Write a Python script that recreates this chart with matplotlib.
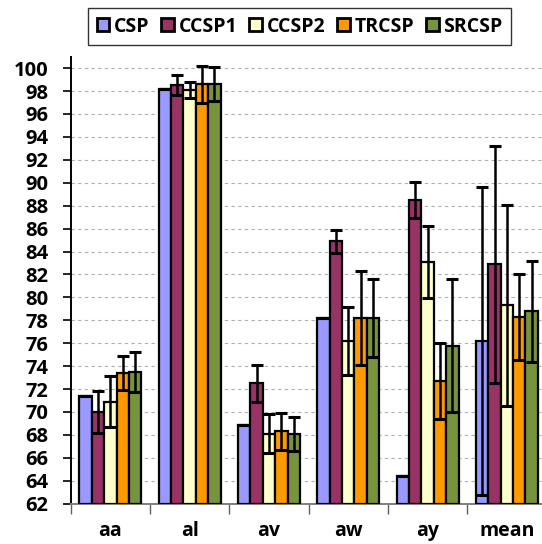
import matplotlib
matplotlib.use("Agg")
import matplotlib.pyplot as plt
import numpy as np

plt.rcParams['font.family'] = ['Open Sans', 'DejaVu Sans']
plt.rcParams['font.weight'] = 'bold'

categories = ["aa", "al", "av", "aw", "ay", "mean"]
methods = ["CSP", "CCSP1", "CCSP2", "TRCSP", "SRCSP"]

csp = [71.4, 98.2, 68.9, 78.2, 64.4, 76.2]
ccsp1 = [70.0, 98.5, 72.5, 84.9, 88.5, 82.9]
ccsp2 = [70.9, 98.1, 68.1, 76.2, 83.1, 79.3]
trcsp = [73.4, 98.6, 68.3, 78.2, 72.7, 78.3]
srcsp = [73.5, 98.6, 68.1, 78.2, 75.8, 78.8]

csp_err = [0.0, 0.0, 0.0, 0.0, 0.0, 13.4]
ccsp1_err = [1.85, 0.87, 1.6, 1.0, 1.6, 10.35]
ccsp2_err = [2.2, 0.7, 1.7, 2.95, 3.15, 8.8]
trcsp_err = [1.5, 1.6, 1.6, 4.1, 3.3, 3.75]
srcsp_err = [1.72, 1.5, 1.5, 3.4, 5.76, 4.4]

values = [csp, ccsp1, ccsp2, trcsp, srcsp]
errors = [csp_err, ccsp1_err, ccsp2_err, trcsp_err, srcsp_err]
colors = ["#9999FF", "#993366", "#FFFFCC", "#FF9900", "#77933C"]

fig = plt.figure(figsize=(5.42, 5.44), dpi=100)
ax = fig.add_axes([0.1304, 0.0741, 0.878, 0.8217])

x = np.arange(len(categories))
w = 0.156
for i, (name, vals, errs, col) in enumerate(zip(methods, values, errors, colors)):
    ax.bar(x + (i - 2) * w, np.array(vals) - 62, bottom=62, width=w,
           color=col, edgecolor="black", linewidth=1.6, label=name,
           yerr=errs, zorder=3,
           error_kw=dict(ecolor="black", elinewidth=1.8, capsize=4.5,
                         capthick=2.2, zorder=4))

ax.set_ylim(62, 101)
ax.set_xlim(-0.5, 5.5)
ax.set_yticks(np.arange(62, 101, 2))
ax.tick_params(axis="y", labelsize=14.5, length=6, width=1.2, direction="out", pad=10)
for lbl in ax.get_yticklabels():
    lbl.set_fontweight("bold")

ax.set_xticks(np.arange(-0.5, 6.0, 1.0))
ax.set_xticklabels([])
ax.tick_params(axis="x", which="major", length=7, width=1.0, color="#606060")
ax.set_xticks(x, minor=True)
ax.set_xticklabels(categories, minor=True, fontsize=14, fontweight="bold")
ax.tick_params(axis="x", which="minor", length=0, pad=12.5)

ax.yaxis.grid(True, linestyle=(0, (3, 3)), color="#b0b0b0", linewidth=0.8)
ax.set_axisbelow(True)
for s in ("top", "right"):
    ax.spines[s].set_visible(False)
ax.spines["left"].set_linewidth(1.4)
ax.spines["bottom"].set_color("#808080")
ax.spines["bottom"].set_linewidth(1.4)

leg = fig.legend(loc="center", bbox_to_anchor=(0.553, 0.951), ncol=5,
                 frameon=True, fancybox=False, edgecolor="black",
                 handlelength=0.65, handleheight=0.65, handletextpad=0.25,
                 columnspacing=0.6, borderpad=0.45, borderaxespad=0.3,
                 prop=dict(size=14, weight="bold"))
leg.get_frame().set_linewidth(1.0)
for h in leg.legend_handles:
    h.set_linewidth(2.0)

fig.savefig("out.png", dpi=100)
